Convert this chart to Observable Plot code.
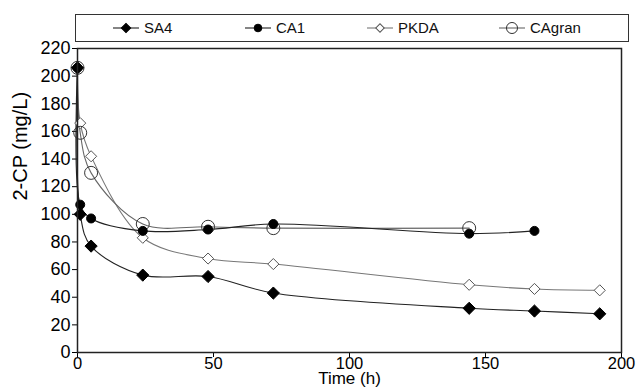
<!DOCTYPE html>
<html><head><meta charset="utf-8">
<script src="https://cdn.jsdelivr.net/npm/d3@7"></script>
<script src="https://cdn.jsdelivr.net/npm/@observablehq/plot@0.6"></script>
<style>
body{margin:0;background:#fff;font-family:"Liberation Sans",Arial,sans-serif;}
#wrap{position:relative;width:637px;height:387px;}
#legend{position:absolute;left:75px;top:14px;width:554px;height:28px;border:1.5px solid #333;box-sizing:border-box;background:#fff;}
.item{position:absolute;top:0;height:25px;display:flex;align-items:center;font-size:15px;color:#111;}
.item svg{margin-right:4px;}
</style>
</head><body>
<div id="wrap"><div id="chart"></div><div id="legend"></div></div>
<script>
const seriesNames = ["SA4","CA1","PKDA","CAgran"];
const timesSA4 = [0,1,5,24,48,72,144,168,192];
const valsSA4 = [206,100,77,56,55,43,32,30,28];
const timesCA1 = [0,1,5,24,48,72,144,168];
const valsCA1 = [206,107,97,88,89,93,86,88];
const timesPKDA = [0,1,5,24,48,72,144,168,192];
const valsPKDA = [206,166,142,83,68,64,49,46,45];
const timesCAgran = [0,1,5,24,48,72,144];
const valsCAgran = [206,159,130,93,91,90,90];
const xTicks = [0,50,100,150,200];
const yTicks = [0,20,40,60,80,100,120,140,160,180,200,220];
const xLabel = "Time (h)";
const yLabel = "2-CP (mg/L)";

const mk = (name, ts, vs) => ts.map((t,i)=>({series:name, t, v:vs[i]}));
const dSA4 = mk("SA4", timesSA4, valsSA4);
const dCA1 = mk("CA1", timesCA1, valsCA1);
const dPKDA = mk("PKDA", timesPKDA, valsPKDA);
const dCAgran = mk("CAgran", timesCAgran, valsCAgran);

const styles = {
  SA4:{line:"#222", symbol:"diamond2", fill:"#000", stroke:"#000", r:5.5},
  CA1:{line:"#222", symbol:"circle", fill:"#000", stroke:"#000", r:4.5},
  PKDA:{line:"#777", symbol:"diamond2", fill:"#fff", stroke:"#555", r:5},
  CAgran:{line:"#666", symbol:"circle", fill:"none", stroke:"#333", r:6.5}
};
const curve = "catmull-rom";
const lineFor = (d,n) => Plot.line(d,{x:"t",y:"v",stroke:styles[n].line,strokeWidth:1.1,curve});
const dotFor = (d,n) => Plot.dot(d,{x:"t",y:"v",symbol:styles[n].symbol,fill:styles[n].fill,stroke:styles[n].stroke,strokeWidth:1,r:styles[n].r});

const chart = Plot.plot({
  width:637, height:387,
  marginLeft:77, marginRight:16, marginTop:48, marginBottom:35,
  style:{fontFamily:"'Liberation Sans', Arial, sans-serif", fontSize:"18px", color:"#000", background:"#fff"},
  x:{domain:[0,200]},
  y:{domain:[0,220]},
  marks:[
    Plot.axisX({ticks:xTicks, tickSize:5, tickPadding:0, fontSize:16.5, label:null}),
    Plot.axisY({ticks:yTicks, tickSize:5, tickPadding:2, fontSize:18, label:null}),
    Plot.text([xLabel], {text:d=>d, frameAnchor:"bottom", dy:26, lineAnchor:"middle", fontSize:17, fill:"#000"}),
    Plot.text([yLabel], {text:d=>d, frameAnchor:"left", dx:-57, rotate:-90, lineAnchor:"middle", fontSize:20, fill:"#000"}),
    lineFor(dPKDA,"PKDA"), lineFor(dCAgran,"CAgran"), lineFor(dSA4,"SA4"), lineFor(dCA1,"CA1"),
    dotFor(dPKDA,"PKDA"), dotFor(dCAgran,"CAgran"), dotFor(dSA4,"SA4"), dotFor(dCA1,"CA1"),
    Plot.frame({stroke:"#222", strokeWidth:1.5})
  ]
});
document.getElementById("chart").appendChild(chart);

// legend
const legendX = {SA4:36, CA1:168, PKDA:290, CAgran:422};
const leg = document.getElementById("legend");
seriesNames.forEach(n=>{
  const s = styles[n];
  const div = document.createElement("div");
  div.className="item";
  div.style.left = legendX[n]+"px";
  const svg = d3.create("svg").attr("width",28).attr("height",14);
  svg.append("line").attr("x1",1).attr("x2",27).attr("y1",7).attr("y2",7).attr("stroke",s.line).attr("stroke-width",1.1);
  const sym = s.symbol==="circle" ? d3.symbolCircle : d3.symbolSquare;
  const size = s.symbol==="circle" ? Math.PI*(s.r*0.85)**2 : (s.r*1.2)**2;
  svg.append("path").attr("d", d3.symbol(sym, size)()).attr("transform", s.symbol==="circle" ? "translate(14,7)" : "translate(14,7) rotate(45)")
     .attr("fill", s.fill).attr("stroke", s.stroke);
  div.appendChild(svg.node());
  const sp = document.createElement("span"); sp.textContent = n; div.appendChild(sp);
  leg.appendChild(div);
});
</script>
</body></html>
